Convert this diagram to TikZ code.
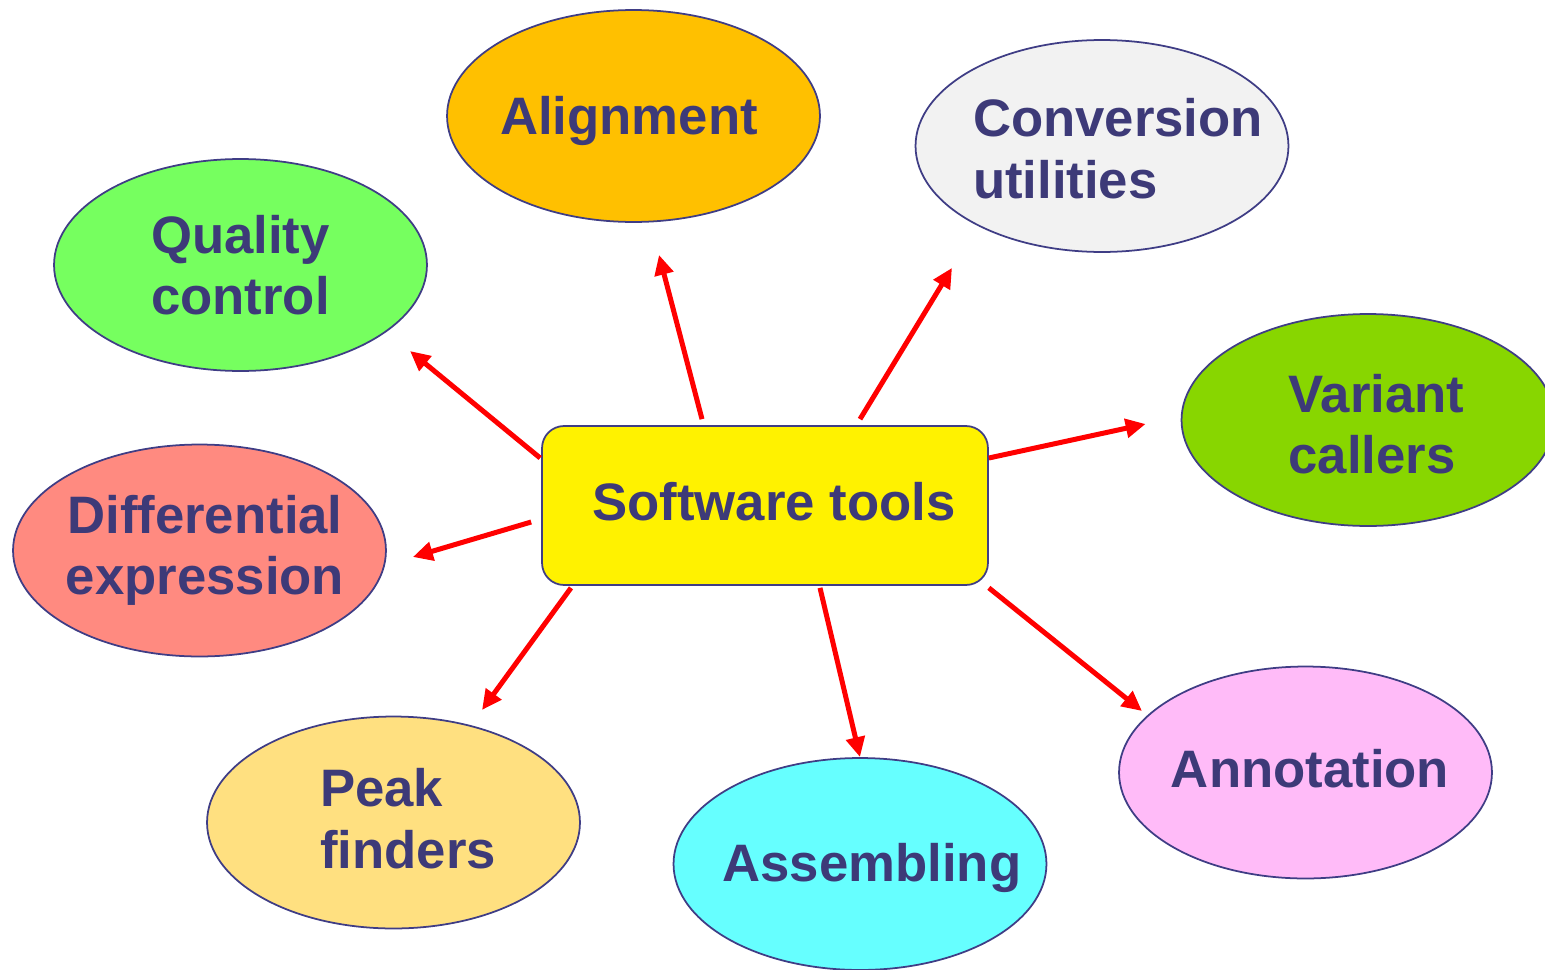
\documentclass[tikz,border=0pt]{standalone}
\usepackage{fontspec}
\setmainfont{Liberation Sans}
\usepackage{xcolor}
\usetikzlibrary{positioning,arrows.meta,shapes.geometric}

\definecolor{inkblue}{RGB}{61,58,120}
\definecolor{rimblue}{RGB}{63,61,133}
\definecolor{alignfill}{RGB}{255,192,0}
\definecolor{convfill}{RGB}{242,242,242}
\definecolor{qcfill}{RGB}{118,255,95}
\definecolor{varfill}{RGB}{136,214,0}
\definecolor{difffill}{RGB}{255,138,128}
\definecolor{peakfill}{RGB}{255,224,128}
\definecolor{asmfill}{RGB}{102,255,255}
\definecolor{annfill}{RGB}{255,187,248}

\begin{document}
\begin{tikzpicture}[x=0.02cm,y=-0.02cm,
    bubble/.style={ellipse,draw=rimblue,line width=1pt,inner sep=0pt,
        minimum width=7.46cm,minimum height=4.24cm},
    tag/.style={font=\bfseries\fontsize{30}{35}\selectfont,text=inkblue,align=left},
    link/.style={-{Triangle[length=0.4cm,width=0.37cm]},draw=red,line width=0.1cm}]%[node distance=4cm]
    \useasboundingbox (0,0) rectangle (1545,970);

    \node[draw=rimblue,line width=1pt,fill=yellow,rounded corners=0.44cm,
        minimum width=8.92cm,minimum height=3.18cm,
        label={[tag,xshift=0.18cm,yshift=0.08cm]center:Software tools}] (hub) at (765,505.5) {};

    \node[bubble,fill=alignfill,label={[tag,xshift=-0.09cm,yshift=-0.09cm]center:Alignment}] (align) at (633.5,116) {};
    \node[bubble,fill=convfill,label={[tag,xshift=0.32cm,yshift=-0.05cm]center:{Conversion\\utilities}}] (conv) at (1102,146) {};
    \node[bubble,fill=qcfill,label={[tag]center:{Quality\\control}}] (qc) at (240.5,265) {};
    \node[bubble,fill=varfill,label={[tag,xshift=0.17cm,yshift=-0.08cm]center:{Variant\\callers}}] (var) at (1368,420) {};
    \node[bubble,fill=difffill,label={[tag,align=center,xshift=0.11cm]center:{Differential\\expression}}] (diff) at (199.5,550.5) {};
    \node[bubble,fill=peakfill,label={[tag,xshift=0.29cm,yshift=0.08cm]center:{Peak\\finders}}] (peak) at (393.5,822.5) {};
    \node[bubble,fill=asmfill,label={[tag,xshift=0.24cm,yshift=-0.07cm]center:Assembling}] (asm) at (860,864) {};
    \node[bubble,fill=annfill,label={[tag,xshift=0.09cm,yshift=0.08cm]center:Annotation}] (ann) at (1305.5,772.5) {};

    \path
        ([shift={(-63,-6)}]hub.north) edge[link] ([shift={(25.5,32)}]align.south)
        ([shift={(95,-6)}]hub.north) edge[link] ([shift={(-150,15)}]conv.south)
        ([shift={(-1,-47.5)}]hub.west) edge[link] ([shift={(169.5,86)}]qc.center)
        ([shift={(0,-47.5)}]hub.east) edge[link] ([shift={(-35,4)}]var.west)
        ([shift={(-10,16.5)}]hub.west) edge[link] ([shift={(26,6.5)}]diff.east)
        ([shift={(-194,2)}]hub.south) edge[link] ([shift={(88.5,-112.5)}]peak.center)
        ([shift={(55,2)}]hub.south) edge[link] (asm.north)
        ([shift={(0,2)}]hub.south east) edge[link] ([shift={(-163.5,-61.5)}]ann.center);

\end{tikzpicture}
\end{document}
